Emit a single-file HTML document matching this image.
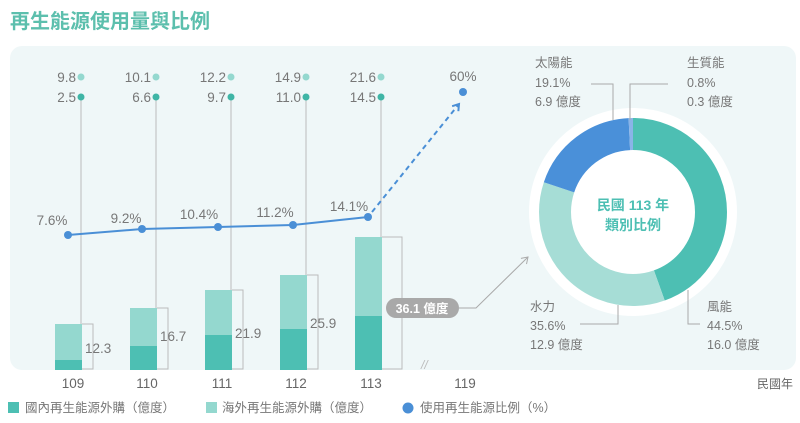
<!DOCTYPE html>
<html><head><meta charset="utf-8"><style>
html,body{margin:0;padding:0;background:#fff;width:800px;height:423px;overflow:hidden}
svg{display:block;font-family:"Liberation Sans","Noto Sans CJK TC",sans-serif}
</style></head><body>
<svg width="800" height="423" viewBox="0 0 800 423" xmlns="http://www.w3.org/2000/svg">
<defs>
<marker id="ah" markerWidth="10" markerHeight="10" refX="7" refY="5" orient="auto" markerUnits="userSpaceOnUse"><path d="M1,1 L7,5 L1,9" fill="none" stroke="#4a8fd6" stroke-width="2"/></marker>
<marker id="ag" markerWidth="10" markerHeight="10" refX="7" refY="5" orient="auto" markerUnits="userSpaceOnUse"><path d="M1,1 L7,5 L1,9" fill="none" stroke="#aaa" stroke-width="1"/></marker>
</defs>
<text x="10" y="28" font-size="20" font-weight="bold" fill="#5cbfad">再生能源使用量與比例</text>
<rect x="10" y="46" width="786" height="324" rx="12" fill="#eff7f8"/>
<g fill="#4dbfb3">
<rect x="55" y="360" width="27" height="10"/><rect x="130" y="346" width="27" height="24"/><rect x="205" y="335" width="27" height="35"/><rect x="280" y="329" width="27" height="41"/><rect x="355" y="316" width="27" height="54"/>
</g>
<g fill="#94d8cf">
<rect x="55" y="324" width="27" height="36"/><rect x="130" y="308" width="27" height="38"/><rect x="205" y="290" width="27" height="45"/><rect x="280" y="275" width="27" height="54"/><rect x="355" y="237" width="27" height="79"/>
</g>
<g fill="none" stroke="#bbb" stroke-width="1">
<path d="M81,97V324M156,97V308M231,97V290M306,97V275M381,97V237"/>
<path d="M82,324H93V369H82M157,308H168V369H157M232,290H243V369H232M307,275H318V369H307M382,237H402V369H382"/>
</g>
<g font-size="13.5" fill="#777" text-anchor="start">
<text x="85" y="353">12.3</text><text x="160" y="341">16.7</text><text x="235" y="338">21.9</text><text x="310" y="328">25.9</text>
</g>
<g fill="#94d8cf"><circle cx="81" cy="77" r="3.5"/><circle cx="156" cy="77" r="3.5"/><circle cx="231" cy="77" r="3.5"/><circle cx="306" cy="77" r="3.5"/><circle cx="381" cy="77" r="3.5"/></g>
<g fill="#3fb5a6"><circle cx="81" cy="97" r="3.5"/><circle cx="156" cy="97" r="3.5"/><circle cx="231" cy="97" r="3.5"/><circle cx="306" cy="97" r="3.5"/><circle cx="381" cy="97" r="3.5"/></g>
<g font-size="13.5" fill="#777" text-anchor="end">
<text x="76" y="82">9.8</text><text x="76" y="102">2.5</text>
<text x="151" y="82">10.1</text><text x="151" y="102">6.6</text>
<text x="226" y="82">12.2</text><text x="226" y="102">9.7</text>
<text x="301" y="82">14.9</text><text x="301" y="102">11.0</text>
<text x="376" y="82">21.6</text><text x="376" y="102">14.5</text>
</g>
<polyline points="68,235 142,229 218,227 293,225 368,217" fill="none" stroke="#4a8fd6" stroke-width="2"/>
<line x1="372" y1="212" x2="459" y2="104" stroke="#4a8fd6" stroke-width="2" stroke-dasharray="5,4" marker-end="url(#ah)"/>
<g fill="#4a8fd6"><circle cx="68" cy="235" r="4"/><circle cx="142" cy="229" r="4"/><circle cx="218" cy="227" r="4"/><circle cx="293" cy="225" r="4"/><circle cx="368" cy="217" r="4"/><circle cx="463" cy="92" r="4"/></g>
<g font-size="13.5" fill="#777" text-anchor="middle">
<text x="52" y="225">7.6%</text><text x="126" y="223">9.2%</text><text x="199" y="219">10.4%</text><text x="275" y="217">11.2%</text><text x="349" y="211">14.1%</text><text x="463" y="81">60%</text>
</g>
<rect x="386" y="298" width="73" height="20" rx="10" fill="#a9a9a9"/>
<text x="422" y="313" font-size="12.5" font-weight="bold" fill="#fff" text-anchor="middle">36.1 億度</text>
<polyline points="459,308 476,308 528,257" fill="none" stroke="#aaa" stroke-width="1" marker-end="url(#ag)"/>
<text x="421" y="369" font-size="12" fill="#bbb" font-style="italic">//</text>
<g font-size="13.5" fill="#666" text-anchor="middle">
<text x="73" y="388">109</text><text x="147" y="388">110</text><text x="222" y="388">111</text><text x="296" y="388">112</text><text x="371" y="388">113</text><text x="465" y="388">119</text>
</g>
<text x="775" y="388" font-size="12" fill="#666" text-anchor="middle">民國年</text>
<circle cx="633" cy="212" r="104" fill="#fff"/>
<g fill="none" stroke-width="32" transform="rotate(-90 633 212)">
<circle cx="633" cy="212" r="78" stroke="#4dbfb3" stroke-dasharray="218.1 1000"/>
<circle cx="633" cy="212" r="78" stroke="#a6ddd6" stroke-dasharray="0 218.1 174.5 1000"/>
<circle cx="633" cy="212" r="78" stroke="#4a90d9" stroke-dasharray="0 392.6 93.6 1000"/>
<circle cx="633" cy="212" r="78" stroke="#8ab4e8" stroke-dasharray="0 486.2 3.9 1000"/>
</g>
<text x="633" y="210" font-size="14" font-weight="bold" fill="#4dbfb3" text-anchor="middle">民國 113 年</text>
<text x="633" y="230" font-size="14" font-weight="bold" fill="#4dbfb3" text-anchor="middle">類別比例</text>
<g fill="none" stroke="#aaa" stroke-width="1">
<path d="M591,84H613V120M668,84H630V120M580,324H618V305M700,324H688V290"/>
</g>
<g font-size="12.5" fill="#777">
<text x="535" y="67">太陽能</text><text x="535" y="87">19.1%</text><text x="535" y="106">6.9 億度</text>
<text x="687" y="67">生質能</text><text x="687" y="87">0.8%</text><text x="687" y="106">0.3 億度</text>
<text x="530" y="311">水力</text><text x="530" y="330">35.6%</text><text x="530" y="349">12.9 億度</text>
<text x="707" y="311">風能</text><text x="707" y="330">44.5%</text><text x="707" y="349">16.0 億度</text>
</g>
<rect x="8" y="402" width="11" height="11" fill="#4dbfb3"/>
<text x="25" y="412" font-size="12.5" fill="#777">國內再生能源外購（億度）</text>
<rect x="206" y="402" width="11" height="11" fill="#94d8cf"/>
<text x="222" y="412" font-size="12.5" fill="#777">海外再生能源外購（億度）</text>
<circle cx="408" cy="408" r="5.5" fill="#4a8fd6"/>
<text x="420" y="412" font-size="12.5" fill="#777">使用再生能源比例（%）</text>
</svg>
</body></html>
